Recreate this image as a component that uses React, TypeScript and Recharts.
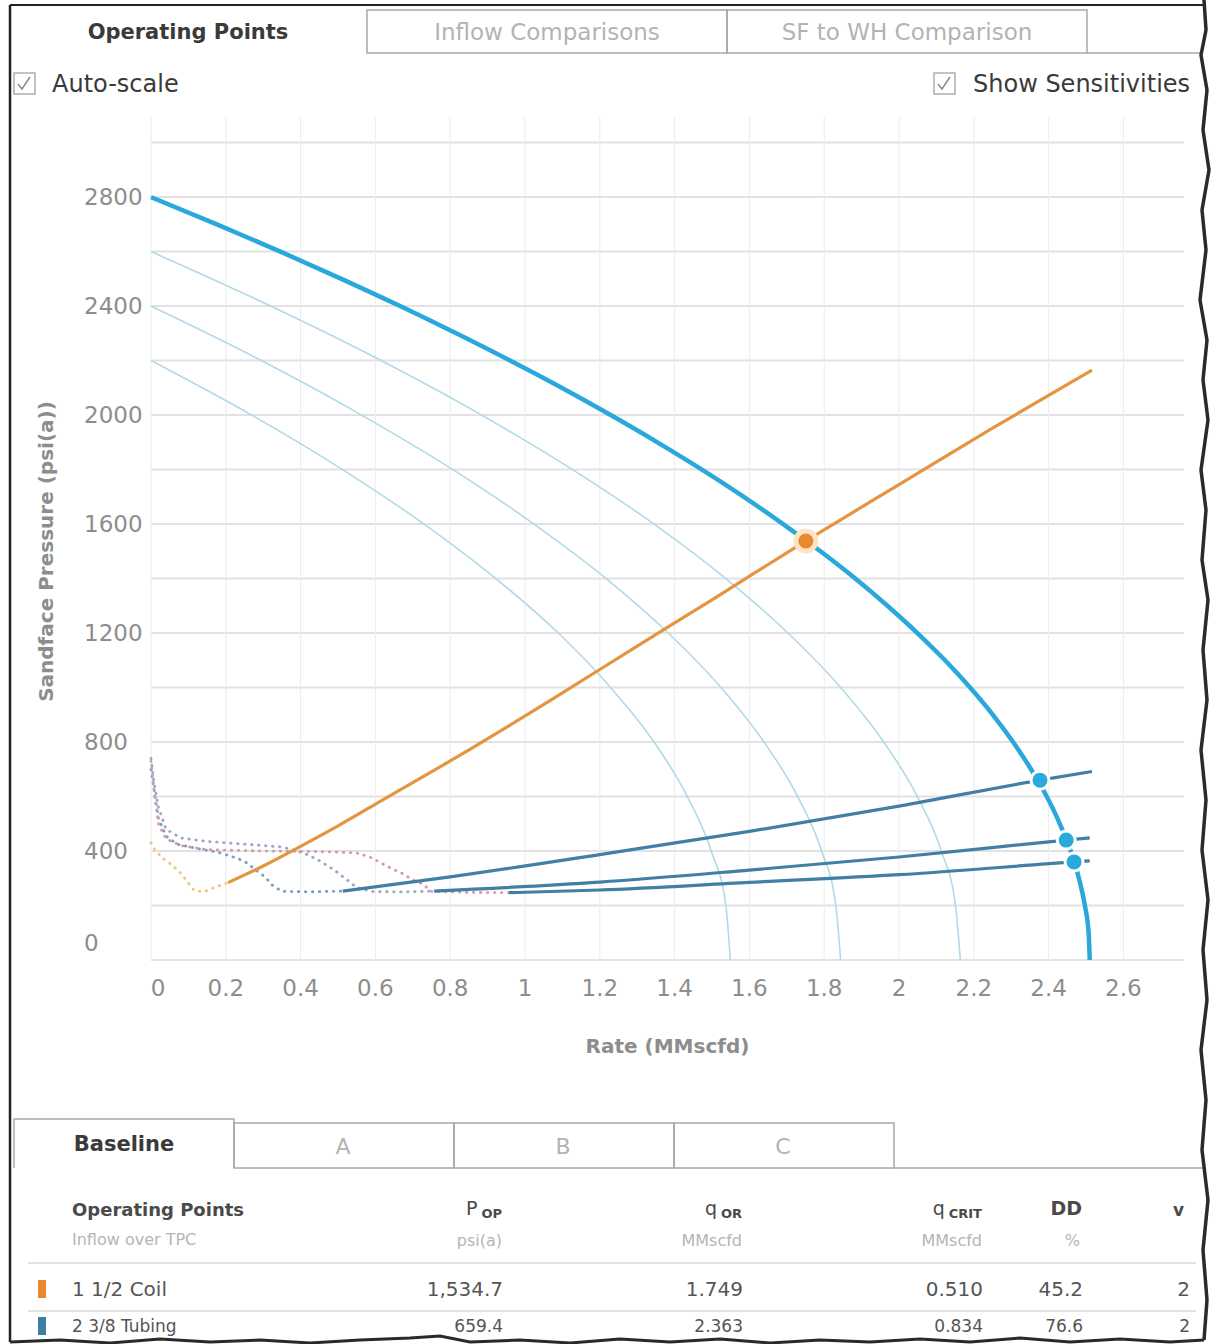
import React from 'react';
import { ComposedChart, Line, Scatter, XAxis, YAxis, CartesianGrid } from 'recharts';

const FONT = "'DejaVu Sans', sans-serif";

// ---- axis ticks / grid ----
const rateTicks = [0, 0.2, 0.4, 0.6, 0.8, 1, 1.2, 1.4, 1.6, 1.8, 2, 2.2, 2.4, 2.6];
const pressureTicks = [0, 400, 800, 1200, 1600, 2000, 2400, 2800];
const gridRates = [0, 0.2, 0.4, 0.6, 0.8, 1, 1.2, 1.4, 1.6, 1.8, 2, 2.2, 2.4, 2.6];
const gridPressures = [0, 200, 400, 600, 800, 1000, 1200, 1400, 1600, 1800, 2000, 2200, 2400, 2600, 2800, 3000];

// ---- inflow (IPR) curves: q = rate (MMscfd), p = sandface pressure (psi(a)) ----
const iprBaseline = [
  { q: 0, p: 2800 }, { q: 0.176, p: 2700 }, { q: 0.346, p: 2600 }, { q: 0.509, p: 2500 },
  { q: 0.666, p: 2400 }, { q: 0.816, p: 2300 }, { q: 0.96, p: 2200 }, { q: 1.098, p: 2100 },
  { q: 1.229, p: 2000 }, { q: 1.354, p: 1900 }, { q: 1.473, p: 1800 }, { q: 1.585, p: 1700 },
  { q: 1.69, p: 1600 }, { q: 1.79, p: 1500 }, { q: 1.883, p: 1400 }, { q: 1.969, p: 1300 },
  { q: 2.049, p: 1200 }, { q: 2.123, p: 1100 }, { q: 2.19, p: 1000 }, { q: 2.251, p: 900 },
  { q: 2.305, p: 800 }, { q: 2.353, p: 700 }, { q: 2.395, p: 600 }, { q: 2.43, p: 500 },
  { q: 2.459, p: 400 }, { q: 2.481, p: 300 }, { q: 2.497, p: 200 }, { q: 2.507, p: 100 },
  { q: 2.51, p: 0 },
];
const iprSens2600 = [
  { q: 0, p: 2600 }, { q: 0.32, p: 2400 }, { q: 0.615, p: 2200 }, { q: 0.884, p: 2000 },
  { q: 1.127, p: 1800 }, { q: 1.345, p: 1600 }, { q: 1.537, p: 1400 }, { q: 1.703, p: 1200 },
  { q: 1.844, p: 1000 }, { q: 1.959, p: 800 }, { q: 2.049, p: 600 }, { q: 2.113, p: 400 },
  { q: 2.151, p: 200 }, { q: 2.164, p: 0 },
];
const iprSens2400 = [
  { q: 0, p: 2400 }, { q: 0.295, p: 2200 }, { q: 0.563, p: 2000 }, { q: 0.807, p: 1800 },
  { q: 1.024, p: 1600 }, { q: 1.217, p: 1400 }, { q: 1.383, p: 1200 }, { q: 1.524, p: 1000 },
  { q: 1.639, p: 800 }, { q: 1.729, p: 600 }, { q: 1.793, p: 400 }, { q: 1.831, p: 200 },
  { q: 1.844, p: 0 },
];
const iprSens2200 = [
  { q: 0, p: 2200 }, { q: 0.269, p: 2000 }, { q: 0.512, p: 1800 }, { q: 0.73, p: 1600 },
  { q: 0.922, p: 1400 }, { q: 1.089, p: 1200 }, { q: 1.229, p: 1000 }, { q: 1.345, p: 800 },
  { q: 1.434, p: 600 }, { q: 1.498, p: 400 }, { q: 1.537, p: 200 }, { q: 1.549, p: 0 },
];

// ---- tubing performance curves (TPC) ----
const tpcCoil = [
  { q: 0.206, p: 284 }, { q: 0.3, p: 345 }, { q: 0.374, p: 398 }, { q: 0.5, p: 492 },
  { q: 0.62, p: 588 }, { q: 0.824, p: 750 }, { q: 1.07, p: 955 }, { q: 1.3, p: 1152 },
  { q: 1.5, p: 1322 }, { q: 1.751, p: 1538 }, { q: 2.0, p: 1745 }, { q: 2.25, p: 1952 },
  { q: 2.516, p: 2165 },
];
const tpcCoilUnstable = [
  { q: 0, p: 430 }, { q: 0.01, p: 405 }, { q: 0.03, p: 375 }, { q: 0.055, p: 350 },
  { q: 0.08, p: 318 }, { q: 0.1, p: 282 }, { q: 0.115, p: 256 }, { q: 0.14, p: 250 },
  { q: 0.17, p: 266 }, { q: 0.206, p: 284 },
];
const tpcSens1 = [
  { q: 0.513, p: 253 }, { q: 0.8, p: 305 }, { q: 1.2, p: 387 }, { q: 1.6, p: 472 },
  { q: 2.0, p: 565 }, { q: 2.377, p: 660 }, { q: 2.516, p: 692 },
];
const tpcSens2 = [
  { q: 0.757, p: 253 }, { q: 1.2, p: 286 }, { q: 1.6, p: 330 }, { q: 2.0, p: 378 },
  { q: 2.447, p: 440 }, { q: 2.51, p: 448 },
];
const tpcSens3 = [
  { q: 0.957, p: 247 }, { q: 1.2, p: 257 }, { q: 1.6, p: 285 }, { q: 2.0, p: 313 },
  { q: 2.468, p: 360 }, { q: 2.51, p: 364 },
];
const tpcSens1Unstable = [
  { q: 0, p: 700 }, { q: 0.01, p: 610 }, { q: 0.02, p: 520 }, { q: 0.04, p: 455 },
  { q: 0.07, p: 425 }, { q: 0.12, p: 410 }, { q: 0.18, p: 395 }, { q: 0.23, p: 374 },
  { q: 0.257, p: 356 }, { q: 0.28, p: 330 }, { q: 0.305, p: 305 }, { q: 0.324, p: 275 },
  { q: 0.35, p: 252 }, { q: 0.42, p: 250 }, { q: 0.513, p: 253 },
];
const tpcSens2Unstable = [
  { q: 0, p: 740 }, { q: 0.008, p: 650 }, { q: 0.02, p: 560 }, { q: 0.04, p: 480 },
  { q: 0.08, p: 448 }, { q: 0.15, p: 435 }, { q: 0.25, p: 425 }, { q: 0.35, p: 415 },
  { q: 0.41, p: 392 }, { q: 0.45, p: 365 }, { q: 0.49, p: 330 }, { q: 0.524, p: 294 },
  { q: 0.55, p: 266 }, { q: 0.59, p: 251 }, { q: 0.68, p: 250 }, { q: 0.757, p: 253 },
];
const tpcSens3Unstable = [
  { q: 0, p: 730 }, { q: 0.01, p: 600 }, { q: 0.02, p: 500 }, { q: 0.04, p: 445 },
  { q: 0.08, p: 420 }, { q: 0.15, p: 405 }, { q: 0.3, p: 400 }, { q: 0.45, p: 398 },
  { q: 0.55, p: 393 }, { q: 0.585, p: 378 }, { q: 0.61, p: 360 }, { q: 0.64, p: 338 },
  { q: 0.67, p: 319 }, { q: 0.7, p: 294 }, { q: 0.725, p: 280 }, { q: 0.75, p: 252 },
  { q: 0.85, p: 248 }, { q: 0.957, p: 247 },
];

// ---- operating points ----
const opCoil = [{ q: 1.751, p: 1538 }];
const opSens = [{ q: 2.377, p: 660 }, { q: 2.447, p: 440 }, { q: 2.468, p: 360 }];

// ---- UI text ----
const topTabs = ['Operating Points', 'Inflow Comparisons', 'SF to WH Comparison'];
const caseTabs = ['Baseline', 'A', 'B', 'C'];
const tableRows = [
  { name: '1 1/2 Coil', pop: '1,534.7', qor: '1.749', qcrit: '0.510', dd: '45.2', v: '2', color: '#e8892f' },
  { name: '2 3/8 Tubing', pop: '659.4', qor: '2.363', qcrit: '0.834', dd: '76.6', v: '2', color: '#3e7ea6' },
];

const TICK_COLOR = '#8d8d8d';

const XTick = (props: any) => {
  const { x, y, payload } = props;
  const shift = payload.value === 0 ? 7 : 0;
  return (
    <text x={x + shift} y={y} dy={36} textAnchor="middle" fill={TICK_COLOR} fontSize={23} fontFamily={FONT}>
      {String(payload.value)}
    </text>
  );
};

const YTick = (props: any) => {
  const { x, y, payload } = props;
  const lift = payload.value === 0 ? -17 : 0;
  return (
    <text x={x - 67} y={y + lift} dy={8} textAnchor="start" fill={TICK_COLOR} fontSize={23} fontFamily={FONT}>
      {String(payload.value)}
    </text>
  );
};

const YTitle = (props: any) => {
  const vb = props.viewBox || { x: 0, y: 117, width: 151, height: 843 };
  const cx = vb.x + 46;
  const cy = vb.y + vb.height / 2 + 13;
  return (
    <text x={cx} y={cy} transform={`rotate(-90 ${cx} ${cy})`} textAnchor="middle" dominantBaseline="central"
      fill={TICK_COLOR} fontSize={20} fontWeight={700} fontFamily={FONT}>
      Sandface Pressure (psi(a))
    </text>
  );
};

const XTitle = (props: any) => {
  const vb = props.viewBox || { x: 151, y: 960, width: 1033, height: 140 };
  const cx = vb.x + vb.width / 2;
  const cy = vb.y + 86;
  return (
    <text x={cx} y={cy} textAnchor="middle" dominantBaseline="central" fill={TICK_COLOR} fontSize={20}
      fontWeight={700} fontFamily={FONT}>
      Rate (MMscfd)
    </text>
  );
};

const OrangeDot = (props: any) => (
  <circle cx={props.cx} cy={props.cy} r={10} fill="#e8892f" stroke="#fde4c6" strokeWidth={5} />
);
const BlueDot = (props: any) => (
  <circle cx={props.cx} cy={props.cy} r={9} fill="#2aa9dc" stroke="#ffffff" strokeWidth={3} />
);

const dotted = { strokeDasharray: '0.5 6.5', strokeWidth: 2.8, strokeLinecap: 'round' as const };

function Chart() {
  return (
    <ComposedChart width={1222} height={1100} margin={{ top: 117, right: 38, bottom: 0, left: 0 }}>
      <CartesianGrid horizontal={true} vertical={false} horizontalValues={gridPressures} stroke="#e2e2e2" strokeWidth={2} />
      <CartesianGrid horizontal={false} vertical={true} verticalValues={gridRates} stroke="#ececec" strokeWidth={1} />
      <XAxis type="number" dataKey="q" domain={[0, 2.762]} ticks={rateTicks} tick={<XTick />} tickSize={0}
        tickMargin={0} axisLine={false} tickLine={false} height={140} interval={0} label={<XTitle />} />
      <YAxis type="number" dataKey="p" domain={[0, 3094]} ticks={pressureTicks} tick={<YTick />} tickSize={0}
        tickMargin={0} axisLine={false} tickLine={false} width={151} interval={0} label={<YTitle />} />

      <Line data={iprSens2600} dataKey="p" type="monotone" stroke="#b2d9e7" strokeWidth={1.6} dot={false} isAnimationActive={false} />
      <Line data={iprSens2400} dataKey="p" type="monotone" stroke="#b2d9e7" strokeWidth={1.6} dot={false} isAnimationActive={false} />
      <Line data={iprSens2200} dataKey="p" type="monotone" stroke="#b2d9e7" strokeWidth={1.6} dot={false} isAnimationActive={false} />

      <Line data={tpcCoilUnstable} dataKey="p" type="linear" stroke="#f2c287" {...dotted} dot={false} isAnimationActive={false} />
      <Line data={tpcSens1Unstable} dataKey="p" type="linear" stroke="#7d9dc0" {...dotted} dot={false} isAnimationActive={false} />
      <Line data={tpcSens2Unstable} dataKey="p" type="linear" stroke="#98a8c8" {...dotted} dot={false} isAnimationActive={false} />
      <Line data={tpcSens3Unstable} dataKey="p" type="linear" stroke="#d59dab" {...dotted} dot={false} isAnimationActive={false} />

      <Line data={tpcSens1} dataKey="p" type="monotone" stroke="#437fa4" strokeWidth={3.2} dot={false} isAnimationActive={false} />
      <Line data={tpcSens2} dataKey="p" type="monotone" stroke="#437fa4" strokeWidth={3.2} dot={false} isAnimationActive={false} />
      <Line data={tpcSens3} dataKey="p" type="monotone" stroke="#437fa4" strokeWidth={3.2} dot={false} isAnimationActive={false} />

      <Line data={tpcCoil} dataKey="p" type="monotone" stroke="#e3963f" strokeWidth={3.2} dot={false} isAnimationActive={false} />
      <Line data={iprBaseline} dataKey="p" type="monotone" stroke="#2aa8dc" strokeWidth={4.5} dot={false} isAnimationActive={false} />

      <Scatter data={opCoil} dataKey="p" shape={<OrangeDot />} isAnimationActive={false} />
      <Scatter data={opSens} dataKey="p" shape={<BlueDot />} isAnimationActive={false} />
    </ComposedChart>
  );
}

const rightEdge =
  'M1204,0 L1206,30 L1201,55 L1207,90 L1203,130 L1209,170 L1202,210 L1206,250 L1200,300 L1207,340 L1203,380 L1208,420 L1201,470 L1206,510 L1202,560 L1208,600 L1203,650 L1207,700 L1201,750 L1206,800 L1202,850 L1208,900 L1203,950 L1207,1000 L1201,1050 L1206,1100 L1202,1150 L1208,1200 L1203,1250 L1207,1300 L1204,1340';
const bottomEdge =
  'M10,1342 L60,1340 L110,1343 L160,1339 L210,1342 L260,1340 L310,1343 L360,1340 L410,1338 L440,1336 L470,1342 L520,1340 L570,1343 L620,1339 L670,1342 L720,1339 L770,1343 L820,1340 L870,1342 L920,1339 L970,1342 L1020,1338 L1070,1342 L1120,1339 L1170,1342 L1204,1340';

function Overlay() {
  const dark = '#3a3a3a';
  const light = '#b3b3b3';
  const border = '#a8a8a8';
  const subStyle = { fontSize: 13, fontWeight: 700 } as const;
  return (
    <svg width={1222} height={1344} style={{ position: 'absolute', left: 0, top: 0, pointerEvents: 'none' }}
      fontFamily={FONT}>
      {/* top tabs */}
      <text x={188} y={32} textAnchor="middle" dominantBaseline="central" fontSize={21} fontWeight={700} fill={dark}>{topTabs[0]}</text>
      <rect x={367} y={10} width={360} height={43} fill="none" stroke={border} strokeWidth={1.5} />
      <rect x={727} y={10} width={360} height={43} fill="none" stroke={border} strokeWidth={1.5} />
      <line x1={1087} y1={53} x2={1204} y2={53} stroke={border} strokeWidth={1.5} />
      <text x={547} y={32} textAnchor="middle" dominantBaseline="central" fontSize={23} fill={light}>{topTabs[1]}</text>
      <text x={907} y={32} textAnchor="middle" dominantBaseline="central" fontSize={23} fill={light}>{topTabs[2]}</text>

      {/* checkboxes */}
      <rect x={14} y={73} width={21} height={21} fill="#fff" stroke="#9a9a9a" strokeWidth={1.2} />
      <polyline points="18,84 22,89 30,77" fill="none" stroke="#8a8a8a" strokeWidth={1.5} />
      <text x={52} y={84} dominantBaseline="central" fontSize={24} fill={dark}>Auto-scale</text>
      <rect x={934} y={73} width={21} height={21} fill="#fff" stroke="#9a9a9a" strokeWidth={1.2} />
      <polyline points="938,84 942,89 950,77" fill="none" stroke="#8a8a8a" strokeWidth={1.5} />
      <text x={973} y={84} dominantBaseline="central" fontSize={24} fill={dark}>Show Sensitivities</text>

      {/* case tabs */}
      <path d="M14,1168 L14,1119 L234,1119 L234,1168" fill="none" stroke={border} strokeWidth={1.5} />
      <rect x={234} y={1123} width={220} height={45} fill="none" stroke={border} strokeWidth={1.5} />
      <rect x={454} y={1123} width={220} height={45} fill="none" stroke={border} strokeWidth={1.5} />
      <rect x={674} y={1123} width={220} height={45} fill="none" stroke={border} strokeWidth={1.5} />
      <line x1={894} y1={1168} x2={1204} y2={1168} stroke={border} strokeWidth={1.5} />
      <text x={124} y={1144} textAnchor="middle" dominantBaseline="central" fontSize={21} fontWeight={700} fill={dark}>{caseTabs[0]}</text>
      <text x={343} y={1146} textAnchor="middle" dominantBaseline="central" fontSize={22} fill={light}>{caseTabs[1]}</text>
      <text x={563} y={1146} textAnchor="middle" dominantBaseline="central" fontSize={22} fill={light}>{caseTabs[2]}</text>
      <text x={783} y={1146} textAnchor="middle" dominantBaseline="central" fontSize={22} fill={light}>{caseTabs[3]}</text>

      {/* table header */}
      <text x={72} y={1209} dominantBaseline="central" fontSize={18} fontWeight={700} fill="#4a4a4a">Operating Points</text>
      <text x={72} y={1239} dominantBaseline="central" fontSize={16} fill="#b5b5b5">Inflow over TPC</text>
      <text x={502} y={1208} textAnchor="end" dominantBaseline="central" fontSize={19} fill="#4a4a4a">P<tspan dx={4} dy={5} {...subStyle}>OP</tspan></text>
      <text x={502} y={1240} textAnchor="end" dominantBaseline="central" fontSize={16} fill="#b5b5b5">psi(a)</text>
      <text x={742} y={1208} textAnchor="end" dominantBaseline="central" fontSize={19} fill="#4a4a4a">q<tspan dx={4} dy={5} {...subStyle}>OR</tspan></text>
      <text x={742} y={1240} textAnchor="end" dominantBaseline="central" fontSize={16} fill="#b5b5b5">MMscfd</text>
      <text x={982} y={1208} textAnchor="end" dominantBaseline="central" fontSize={19} fill="#4a4a4a">q<tspan dx={4} dy={5} {...subStyle}>CRIT</tspan></text>
      <text x={982} y={1240} textAnchor="end" dominantBaseline="central" fontSize={16} fill="#b5b5b5">MMscfd</text>
      <text x={1082} y={1208} textAnchor="end" dominantBaseline="central" fontSize={19} fontWeight={700} fill="#4a4a4a">DD</text>
      <text x={1080} y={1240} textAnchor="end" dominantBaseline="central" fontSize={16} fill="#b5b5b5">%</text>
      <text x={1184} y={1210} textAnchor="end" dominantBaseline="central" fontSize={17} fontWeight={700} fill="#4a4a4a">v</text>
      <line x1={28} y1={1263} x2={1196} y2={1263} stroke="#e2e2e2" strokeWidth={2} />

      {tableRows.map((r, i) => {
        const cy = 1289 + i * 37;
        const size = i === 0 ? 20 : 17;
        return (
          <g key={r.name}>
            <rect x={38} y={cy - 9} width={8} height={18} fill={r.color} />
            <text x={72} y={cy} dominantBaseline="central" fontSize={size} fill="#555">{r.name}</text>
            <text x={503} y={cy} textAnchor="end" dominantBaseline="central" fontSize={size} fill="#555">{r.pop}</text>
            <text x={743} y={cy} textAnchor="end" dominantBaseline="central" fontSize={size} fill="#555">{r.qor}</text>
            <text x={983} y={cy} textAnchor="end" dominantBaseline="central" fontSize={size} fill="#555">{r.qcrit}</text>
            <text x={1083} y={cy} textAnchor="end" dominantBaseline="central" fontSize={size} fill="#555">{r.dd}</text>
            <text x={1190} y={cy} textAnchor="end" dominantBaseline="central" fontSize={size} fill="#555">{r.v}</text>
            {i === 0 && <line x1={28} y1={1311} x2={1196} y2={1311} stroke="#e2e2e2" strokeWidth={2} />}
          </g>
        );
      })}

      {/* torn-paper frame */}
      <path d={`${bottomEdge} L1222,1340 L1222,1344 L0,1344 L0,1342 Z`} fill="#ffffff" stroke="none" />
      <path d={`${rightEdge} L1222,1340 L1222,0 Z`} fill="#ffffff" stroke="none" />
      <line x1={10} y1={5} x2={1204} y2={5} stroke="#222" strokeWidth={2} />
      <line x1={10} y1={5} x2={10} y2={1342} stroke="#222" strokeWidth={2.5} />
      <path d={rightEdge} fill="none" stroke="#2a2a2a" strokeWidth={3.5} />
      <path d={bottomEdge} fill="none" stroke="#2a2a2a" strokeWidth={3} />
    </svg>
  );
}

export default function App() {
  return (
    <div style={{ position: 'absolute', left: 0, top: 0, width: 1222, height: 1344, background: '#fff', overflow: 'hidden', fontFamily: FONT }}>
      <div style={{ position: 'absolute', left: 0, top: 0 }}>
        <Chart />
      </div>
      <Overlay />
    </div>
  );
}
